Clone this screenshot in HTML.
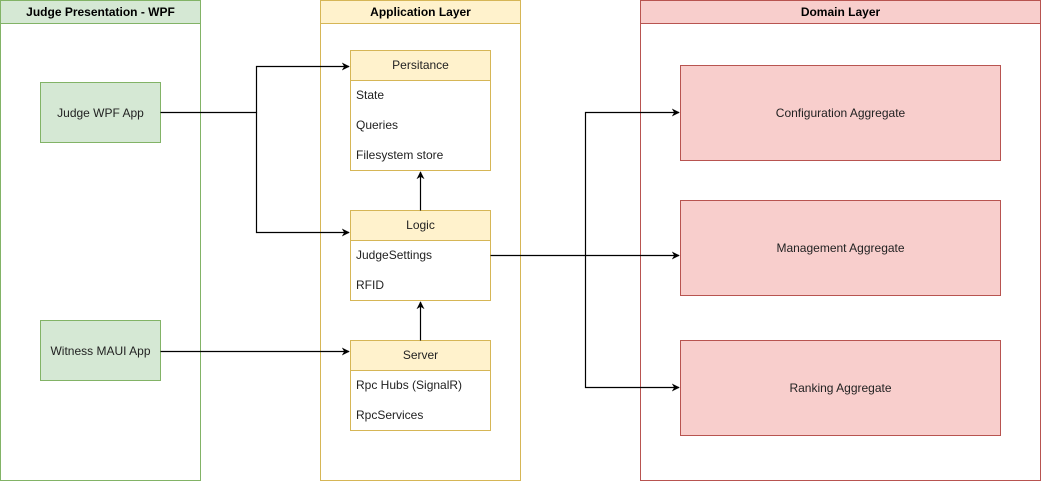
<!DOCTYPE html>
<html><head><meta charset="utf-8"><style>
html,body{margin:0;padding:0;background:#fff;}
svg{display:block;font-family:"Liberation Sans",Arial,sans-serif;}
</style></head><body>
<svg width="1041" height="482" viewBox="0 0 1041 482" xmlns="http://www.w3.org/2000/svg">
<defs>
<marker id="a" viewBox="0 0 10 10" refX="9" refY="5" markerWidth="8" markerHeight="8" orient="auto" markerUnits="userSpaceOnUse">
<path d="M0,0 L10,5 L0,10 L3,5 Z" fill="#000"/></marker>
</defs>
<!-- lanes -->
<rect x="0.5" y="0.5" width="200" height="480" fill="#fff" stroke="#82b366"/>
<rect x="0.5" y="0.5" width="200" height="23" fill="#d5e8d4" stroke="#82b366"/>
<text x="100.5" y="16" font-size="12" font-weight="bold" text-anchor="middle">Judge Presentation - WPF</text>

<rect x="320.5" y="0.5" width="200" height="480" fill="#fff" stroke="#d6b656"/>
<rect x="320.5" y="0.5" width="200" height="23" fill="#fff2cc" stroke="#d6b656"/>
<text x="420.5" y="16" font-size="12" font-weight="bold" text-anchor="middle">Application Layer</text>

<rect x="640.5" y="0.5" width="400" height="480" fill="#fff" stroke="#b85450"/>
<rect x="640.5" y="0.5" width="400" height="23" fill="#f8cecc" stroke="#b85450"/>
<text x="840.5" y="16" font-size="12" font-weight="bold" text-anchor="middle">Domain Layer</text>

<!-- green apps -->
<rect x="40.5" y="82.5" width="120" height="60" fill="#d5e8d4" stroke="#82b366"/>
<text x="100.5" y="117" font-size="12" text-anchor="middle" fill="#222">Judge WPF App</text>
<rect x="40.5" y="320.5" width="120" height="60" fill="#d5e8d4" stroke="#82b366"/>
<text x="100.5" y="355" font-size="12" text-anchor="middle" fill="#222">Witness MAUI App</text>

<!-- class boxes -->
<g font-size="12" fill="#222">
<rect x="350.5" y="50.5" width="140" height="120" fill="#fff" stroke="#d6b656"/>
<rect x="350.5" y="50.5" width="140" height="30" fill="#fff2cc" stroke="#d6b656"/>
<text x="420.5" y="69" text-anchor="middle">Persitance</text>
<text x="356" y="99">State</text>
<text x="356" y="129">Queries</text>
<text x="356" y="159">Filesystem store</text>

<rect x="350.5" y="210.5" width="140" height="90" fill="#fff" stroke="#d6b656"/>
<rect x="350.5" y="210.5" width="140" height="30" fill="#fff2cc" stroke="#d6b656"/>
<text x="420.5" y="229" text-anchor="middle">Logic</text>
<text x="356" y="259">JudgeSettings</text>
<text x="356" y="289">RFID</text>

<rect x="350.5" y="340.5" width="140" height="90" fill="#fff" stroke="#d6b656"/>
<rect x="350.5" y="340.5" width="140" height="30" fill="#fff2cc" stroke="#d6b656"/>
<text x="420.5" y="359" text-anchor="middle">Server</text>
<text x="356" y="389">Rpc Hubs (SignalR)</text>
<text x="356" y="419">RpcServices</text>
</g>

<!-- domain aggregates -->
<g font-size="12" fill="#222" text-anchor="middle">
<rect x="680.5" y="65.5" width="320" height="95" fill="#f8cecc" stroke="#b85450"/>
<text x="840.5" y="117">Configuration Aggregate</text>
<rect x="680.5" y="200.5" width="320" height="95" fill="#f8cecc" stroke="#b85450"/>
<text x="840.5" y="252">Management Aggregate</text>
<rect x="680.5" y="340.5" width="320" height="95" fill="#f8cecc" stroke="#b85450"/>
<text x="840.5" y="392">Ranking Aggregate</text>
</g>

<!-- connectors -->
<g fill="none" stroke="#000" stroke-width="1.2">
<path d="M160.5 112.5 H256.5 V66.5 H349" marker-end="url(#a)"/>
<path d="M256.5 112.5 V232.5 H349" marker-end="url(#a)"/>
<path d="M160.5 351.5 H349" marker-end="url(#a)"/>
<path d="M420.5 210.5 V172" marker-end="url(#a)"/>
<path d="M420.5 340.5 V302" marker-end="url(#a)"/>
<path d="M490.5 255.5 H679" marker-end="url(#a)"/>
<path d="M585.5 255.5 V112.5 H679" marker-end="url(#a)"/>
<path d="M585.5 255.5 V387.5 H679" marker-end="url(#a)"/>
</g>
</svg>
</body></html>
